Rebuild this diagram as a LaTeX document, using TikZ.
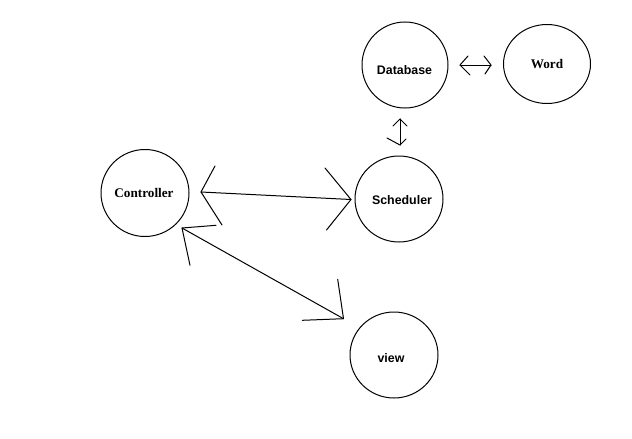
\documentclass[tikz,border=0pt]{standalone}
\usepackage{fontspec}
\setmainfont{Liberation Serif}
\newfontfamily\labsans{Liberation Sans}
\usetikzlibrary{shapes.geometric}
\begin{document}
\begin{tikzpicture}[x=1pt,y=-1pt,
  bubble/.style={draw,ellipse,line width=1pt,inner sep=0pt},
  sanslabel/.style={font=\labsans\bfseries\fontsize{12.4}{14}\selectfont,inner sep=0pt},
  seriflabel/.style={font=\bfseries\fontsize{13.2}{15}\selectfont,inner sep=0pt},
  wire/.style={line width=1pt,line cap=round,line join=round}]
\useasboundingbox (0,0) rectangle (632,439);
\fill[white] (0,0) rectangle (632,439);

% components
\node[bubble,minimum width=86pt,minimum height=86pt] (database) at (405,65) {};
\node[bubble,minimum width=87pt,minimum height=79pt] (word) at (547,64) {};
\node[bubble,minimum width=88pt,minimum height=87pt] (controller) at (145,193) {};
\node[bubble,minimum width=88pt,minimum height=86pt] (scheduler) at (399,199) {};
\node[bubble,minimum width=88pt,minimum height=86pt] (view) at (394,355) {};

% names
\node[sanslabel] (databaselabel) at (404.5,70) {Database};
\node[seriflabel] (wordlabel) at (547,64) {Word};
\node[seriflabel] (controllerlabel) at (144,192.5) {Controller};
\node[sanslabel] (schedulerlabel) at (402,200) {Scheduler};
\node[sanslabel] (viewlabel) at (391,358) {view};

% Database <-> Word
\coordinate (dwL) at (460,65);
\coordinate (dwR) at (491,65);
\draw[wire] (dwL) -- (dwR);
\draw[wire] ([shift={(8,-9)}]dwL) -- (dwL) -- ([shift={(10,10)}]dwL);
\draw[wire] ([shift={(-7,-9)}]dwR) -- (dwR) -- ([shift={(-6,9)}]dwR);

% Database <-> Scheduler
\coordinate (dsT) at (400,119);
\coordinate (dsB) at (400,145);
\draw[wire] (dsT) -- (dsB);
\draw[wire] ([shift={(-7,7)}]dsT) -- (dsT) -- ([shift={(7,7)}]dsT);
\draw[wire] ([shift={(-13,-7)}]dsB) -- (dsB) -- ([shift={(6,-6)}]dsB);

% Controller <-> Scheduler
\coordinate (csL) at (201,192);
\coordinate (csR) at (351,199.5);
\draw[wire] (csL) -- (csR);
\draw[wire] ([shift={(14,-26)}]csL) -- (csL) -- ([shift={(21,33)}]csL);
\draw[wire] ([shift={(-26,-31.5)}]csR) -- (csR) -- ([shift={(-24.5,30.5)}]csR);

% Controller <-> view
\coordinate (cvT) at (182,228);
\coordinate (cvB) at (343.5,318.7);
\draw[wire] (cvT) -- (cvB);
\draw[wire] ([shift={(34,-2.7)}]cvT) -- (cvT) -- ([shift={(8,37.3)}]cvT);
\draw[wire] ([shift={(-5.8,-39.4)}]cvB) -- (cvB) -- ([shift={(-41.2,1.6)}]cvB);
\end{tikzpicture}
\end{document}
